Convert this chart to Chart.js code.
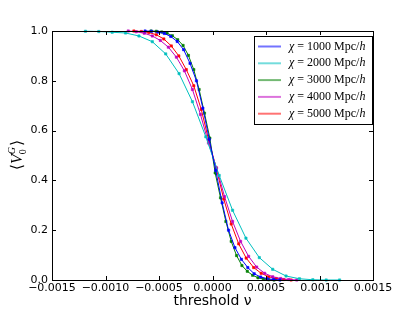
<!DOCTYPE html>
<html>
<head>
<meta charset="utf-8">
<script src="https://cdn.jsdelivr.net/npm/chart.js@4.4.0/dist/chart.umd.min.js"></script>
<style>
html, body { margin: 0; padding: 0; background: #fff; }
</style>
</head>
<body>
<canvas id="vChart" width="415" height="312"></canvas>
<script>
// axis ticks
const xTicks = [-0.0015, -0.001, -0.0005, 0, 0.0005, 0.001, 0.0015];
const yTicks = [0, 0.2, 0.4, 0.6, 0.8, 1.0];

// series labels (comoving distance chi) and colours
const chiLabels = ['1000', '2000', '3000', '4000', '5000'];
const chiColors = ['#0000ff', '#00bfbf', '#008000', '#bf00bf', '#ff0000'];

// chi = 1000 Mpc/h
const nu1000 = [-0.00063, -0.00057, -0.00051, -0.00045, -0.00039, -0.00033, -0.00027, -0.00021, -0.00015, -0.00009, -0.00003,
                0.00003, 0.00009, 0.00015, 0.00021, 0.00027, 0.00033, 0.00039, 0.00045, 0.00051, 0.00057, 0.00063];
const v1000 = [1.0, 0.999, 0.996, 0.99, 0.978, 0.958, 0.925, 0.87, 0.8, 0.69, 0.565,
               0.44, 0.31, 0.2, 0.13, 0.083, 0.05, 0.025, 0.012, 0.005, 0.002, 0.0];

// chi = 2000 Mpc/h
const nu2000 = [-0.0011875, -0.0010625, -0.0009375, -0.0008125, -0.0006875, -0.0005625, -0.0004375, -0.0003125, -0.0001875, -0.0000625,
                0.0000625, 0.0001875, 0.0003125, 0.0004375, 0.0005625, 0.0006875, 0.0008125, 0.0009375, 0.0010625, 0.0011875];
const v2000 = [0.999, 0.998, 0.995, 0.992, 0.98, 0.957, 0.908, 0.829, 0.716, 0.575,
               0.42, 0.28, 0.168, 0.09, 0.043, 0.016, 0.005, 0.001, 0.0, 0.0];

// chi = 3000 Mpc/h
const nu3000 = [-0.000575, -0.000525, -0.000475, -0.000425, -0.000375, -0.000325, -0.000275, -0.000225, -0.000175, -0.000125, -0.000075, -0.000025,
                0.000025, 0.000075, 0.000125, 0.000175, 0.000225, 0.000275, 0.000325, 0.000375, 0.000425, 0.000475, 0.000525, 0.000575];
const v3000 = [1.0, 0.999, 0.996, 0.991, 0.981, 0.965, 0.942, 0.902, 0.845, 0.765, 0.67, 0.57,
               0.43, 0.33, 0.235, 0.155, 0.098, 0.058, 0.035, 0.019, 0.009, 0.004, 0.001, 0.0];

// chi = 4000 Mpc/h
const nu4000 = [-0.0007875, -0.0007125, -0.0006375, -0.0005625, -0.0004875, -0.0004125, -0.0003375, -0.0002625, -0.0001875, -0.0001125, -0.0000375,
                0.0000375, 0.0001125, 0.0001875, 0.0002625, 0.0003375, 0.0004125, 0.0004875, 0.0005625, 0.0006375, 0.0007125, 0.0007875];
const v4000 = [1.0, 0.997, 0.991, 0.98, 0.962, 0.935, 0.895, 0.84, 0.765, 0.665, 0.55,
               0.45, 0.335, 0.235, 0.155, 0.095, 0.052, 0.027, 0.013, 0.006, 0.002, 0.0];

// chi = 5000 Mpc/h
const nu5000 = [-0.000735, -0.000665, -0.000595, -0.000525, -0.000455, -0.000385, -0.000315, -0.000245, -0.000175, -0.000105, -0.000035,
                0.000035, 0.000105, 0.000175, 0.000245, 0.000315, 0.000385, 0.000455, 0.000525, 0.000595, 0.000665, 0.000735];
const v5000 = [1.0, 0.998, 0.994, 0.985, 0.968, 0.94, 0.9, 0.845, 0.78, 0.685, 0.56,
               0.45, 0.325, 0.225, 0.145, 0.088, 0.05, 0.027, 0.013, 0.006, 0.002, 0.0];

const nuSets = [nu1000, nu2000, nu3000, nu4000, nu5000];
const vSets = [v1000, v2000, v3000, v4000, v5000];

function toPoints(xs, ys) {
  let pts = [];
  for (let i = 0; i < xs.length; i++) {
    pts.push({x: xs[i], y: ys[i]});
  }
  return pts;
}

function fmtTick(v, digits) {
  return v.toFixed(digits).replace('-', '\u2212');
}

// frame with inward ticks on all four sides, like the matplotlib original
const framePlugin = {
  id: 'frame',
  afterDatasetsDraw(chart) {
    const ctx = chart.ctx;
    const a = chart.chartArea;
    const xs = chart.scales.x, ys = chart.scales.y;
    ctx.save();
    ctx.strokeStyle = '#000';
    ctx.lineWidth = 1;
    ctx.strokeRect(Math.round(a.left) + 0.5, Math.round(a.top) + 0.5,
                   Math.round(a.right - a.left), Math.round(a.bottom - a.top));
    ctx.beginPath();
    xTicks.forEach(t => {
      const px = Math.round(xs.getPixelForValue(t)) + 0.5;
      ctx.moveTo(px, a.bottom); ctx.lineTo(px, a.bottom - 4);
      ctx.moveTo(px, a.top); ctx.lineTo(px, a.top + 4);
    });
    yTicks.forEach(t => {
      const py = Math.round(ys.getPixelForValue(t)) + 0.5;
      ctx.moveTo(a.left, py); ctx.lineTo(a.left + 4, py);
      ctx.moveTo(a.right, py); ctx.lineTo(a.right - 4, py);
    });
    ctx.stroke();
    ctx.restore();
  }
};

// boxed legend in the upper right corner
const legendPlugin = {
  id: 'boxLegend',
  afterDraw(chart) {
    const ctx = chart.ctx;
    const bx = 254.5, by = 36.5, bw = 118, bh = 88;
    ctx.save();
    ctx.fillStyle = '#fff';
    ctx.fillRect(bx, by, bw, bh);
    ctx.strokeStyle = '#000';
    ctx.lineWidth = 1;
    ctx.strokeRect(bx, by, bw, bh);
    for (let i = 0; i < chiLabels.length; i++) {
      const y = 46.5 + i * 16.8;
      ctx.strokeStyle = chiColors[i];
      ctx.globalAlpha = 0.55;
      ctx.lineWidth = 2;
      ctx.beginPath();
      ctx.moveTo(258, y); ctx.lineTo(281, y);
      ctx.stroke();
      ctx.globalAlpha = 1;
      ctx.fillStyle = '#000';
      ctx.textBaseline = 'middle';
      let x = 289;
      const parts = [
        ['italic 12px "Liberation Serif"', '\u03c7'],
        ['12px "Liberation Serif"', ' = ' + chiLabels[i] + ' Mpc/'],
        ['italic 12px "Liberation Serif"', 'h']
      ];
      parts.forEach(p => {
        ctx.font = p[0];
        ctx.fillText(p[1], x, y);
        x += ctx.measureText(p[1]).width;
      });
    }
    ctx.restore();
  }
};

// rotated y label <V_0^G>
const yLabelPlugin = {
  id: 'yLabel',
  afterDraw(chart) {
    const ctx = chart.ctx;
    ctx.save();
    ctx.translate(22, 155);
    ctx.rotate(-Math.PI / 2);
    ctx.fillStyle = '#000';
    ctx.textBaseline = 'alphabetic';
    const big = '16px "DejaVu Sans"';
    const vFont = 'italic 16px "Liberation Serif"';
    const small = 'italic 10px "Liberation Serif"';
    const sub = '10px "Liberation Serif"';
    ctx.font = big; const wL = ctx.measureText('\u27e8').width;
    ctx.font = vFont; const wV = ctx.measureText('V').width;
    ctx.font = small; const wG = ctx.measureText('G').width;
    ctx.font = big; const wR = ctx.measureText('\u27e9').width;
    const total = wL + wV + wG + wR + 1;
    let x = -total / 2;
    ctx.font = big; ctx.fillText('\u27e8', x, 0); x += wL;
    ctx.font = vFont; ctx.fillText('V', x, 0); x += wV;
    ctx.font = small; ctx.fillText('G', x, -7);
    ctx.font = sub; ctx.fillText('0', x, 4);
    x += wG + 1;
    ctx.font = big; ctx.fillText('\u27e9', x, 0);
    ctx.restore();
  }
};

let elChart = document.getElementById('vChart').getContext('2d');

let datasets = [];
for (let i = 0; i < chiLabels.length; i++) {
  datasets.push({
    label: '\u03c7 = ' + chiLabels[i] + ' Mpc/h',
    data: toPoints(nuSets[i], vSets[i]),
    borderColor: chiColors[i],
    backgroundColor: chiColors[i],
    borderWidth: 1,
    pointRadius: 1.6,
    pointBorderWidth: 0.6,
    pointStyle: 'rect',
    tension: 0,
    clip: false
  });
}

let vChart = new Chart(elChart, {
  type: 'line',
  data: { datasets: datasets },
  options: {
    responsive: false,
    animation: false,
    layout: { padding: { left: 0, top: 31, right: 42, bottom: 0 } },
    plugins: { legend: { display: false }, tooltip: { enabled: false } },
    scales: {
      x: {
        type: 'linear',
        min: -0.0015,
        max: 0.0015,
        afterBuildTicks: s => { s.ticks = xTicks.map(v => ({value: v})); },
        afterFit: s => { s.height = 32; },
        grid: { display: false, drawTicks: false },
        border: { display: false },
        ticks: {
          padding: 2,
          color: '#000',
          autoSkip: false,
          maxRotation: 0,
          minRotation: 0,
          font: { family: 'DejaVu Sans', size: 11 },
          callback: v => fmtTick(v, 4)
        },
        title: {
          display: true,
          text: 'threshold \u03bd',
          color: '#000',
          font: { family: 'DejaVu Sans', size: 14 },
          padding: { top: 0, bottom: 2 }
        }
      },
      y: {
        type: 'linear',
        min: 0,
        max: 1,
        afterBuildTicks: s => { s.ticks = yTicks.map(v => ({value: v})); },
        afterFit: s => { s.width = 52; },
        grid: { display: false, drawTicks: false },
        border: { display: false },
        ticks: {
          padding: 4,
          color: '#000',
          font: { family: 'DejaVu Sans', size: 11 },
          callback: v => fmtTick(v, 1)
        }
      }
    }
  },
  plugins: [framePlugin, legendPlugin, yLabelPlugin]
});
</script>
</body>
</html>
